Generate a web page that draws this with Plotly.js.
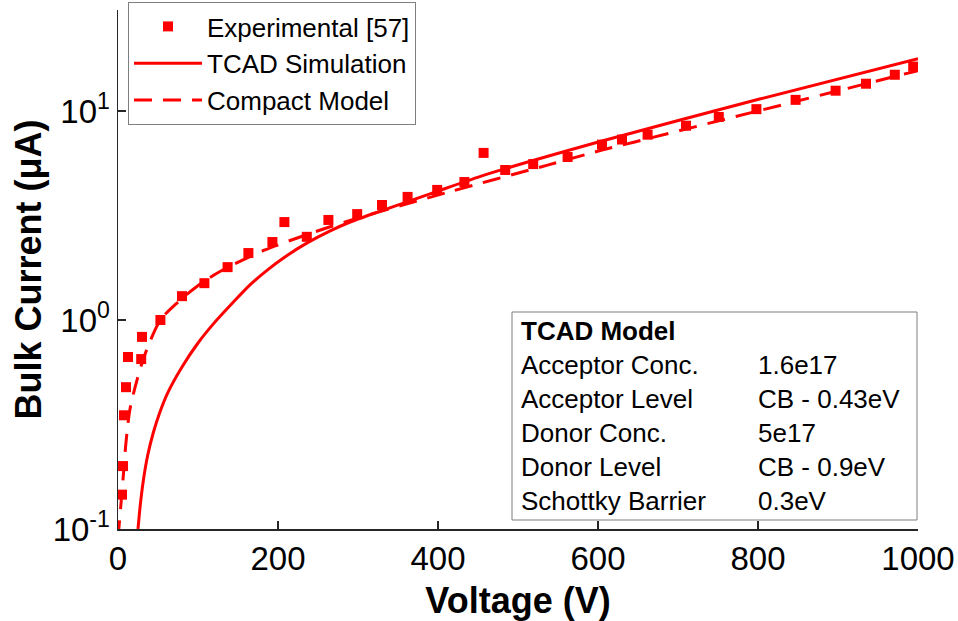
<!DOCTYPE html>
<html>
<head>
<meta charset="utf-8">
<script src="https://cdn.plot.ly/plotly-3.0.1.min.js"></script>
<style>
  html, body { margin: 0; padding: 0; background: #fff; }
  #chart { width: 958px; height: 621px; }
</style>
</head>
<body>
<div id="chart"></div>
<script>
// ---- Data ----
const expVoltage = [5, 6.3, 7.5, 10, 12.5, 29, 30, 53, 80, 108, 137, 163, 193, 208, 236, 263, 299, 330, 362, 399, 433, 457, 484, 519, 562, 605, 630, 662, 710, 751, 798, 847, 897, 935, 971, 994];
const expCurrent = [0.146, 0.2, 0.35, 0.477, 0.665, 0.65, 0.83, 1.0, 1.30, 1.50, 1.79, 2.09, 2.36, 2.94, 2.50, 3.01, 3.21, 3.55, 3.88, 4.19, 4.57, 6.3, 5.22, 5.57, 6.02, 6.9, 7.3, 7.7, 8.5, 9.36, 10.2, 11.3, 12.5, 13.5, 14.9, 16.3];

const tcadVoltage = [25, 28, 32, 37, 44, 52, 62, 80, 100, 120, 144, 165, 187, 210, 237, 264, 291, 329, 390, 454, 605, 802, 1000];
const tcadCurrent = [0.1, 0.132, 0.174, 0.224, 0.288, 0.359, 0.447, 0.596, 0.776, 0.966, 1.216, 1.472, 1.738, 2.018, 2.344, 2.655, 2.951, 3.327, 4.01, 4.88, 7.18, 11.4, 17.8];

const compactVoltage = [0, 6.3, 10, 15, 24, 34, 53, 72, 99, 128, 182, 241, 287, 413, 538, 605, 646, 800, 1000];
const compactCurrent = [0.09, 0.173, 0.26, 0.375, 0.52, 0.69, 1.0, 1.19, 1.45, 1.71, 2.15, 2.6, 2.97, 4.09, 5.52, 6.5, 7.11, 10.0, 15.6];

const seriesNames = ['Experimental [57]', 'TCAD Simulation', 'Compact Model'];

const xTickVals = [0, 200, 400, 600, 800, 1000];
const yTickVals = [0.1, 1, 10];
const yTickText = ['10<sup>-1</sup>', '10<sup>0</sup>', '10<sup>1</sup>'];

const boxTitle = 'TCAD Model';
const paramNames = ['Acceptor Conc.', 'Acceptor Level', 'Donor Conc.', 'Donor Level', 'Schottky Barrier'];
const paramValues = ['1.6e17', 'CB - 0.43eV', '5e17', 'CB - 0.9eV', '0.3eV'];

// ---- Styles ----
const RED = '#ff0000';
const AXIS = '#262626';
const FONT = 'Arial, "Liberation Sans", sans-serif';

const traces = [
  {
    x: expVoltage, y: expCurrent, name: seriesNames[0], type: 'scatter', mode: 'markers',
    marker: { symbol: 'square', size: 10, color: RED },
    legendgroup: 'a'
  },
  {
    x: tcadVoltage, y: tcadCurrent, name: seriesNames[1], type: 'scatter', mode: 'lines',
    line: { color: RED, width: 3, shape: 'spline', smoothing: 0.7 },
    legendgroup: 'b'
  },
  {
    x: compactVoltage, y: compactCurrent, name: seriesNames[2], type: 'scatter', mode: 'lines',
    line: { color: RED, width: 3, dash: '18px,11px', shape: 'spline', smoothing: 0.8 },
    legendgroup: 'c'
  }
];

// plot area: left 118, right 918, top 10, bottom 529
const L = 118, R = 918, T = 10, B = 529;
const px2x = p => (p - L) / (R - L);
const px2y = p => (B - p) / (B - T);

const rowY = [331, 365, 399, 433, 467, 501];
const annotations = [];
annotations.push({
  xref: 'paper', yref: 'paper', x: px2x(519), y: px2y(rowY[0]),
  xanchor: 'left', yanchor: 'middle', showarrow: false,
  text: '<b>' + boxTitle + '</b>', font: { family: FONT, size: 26, color: '#000' }
});
paramNames.forEach((n, i) => {
  annotations.push({
    xref: 'paper', yref: 'paper', x: px2x(519), y: px2y(rowY[i + 1]),
    xanchor: 'left', yanchor: 'middle', showarrow: false,
    text: n, font: { family: FONT, size: 26, color: '#000' }
  });
  annotations.push({
    xref: 'paper', yref: 'paper', x: px2x(756), y: px2y(rowY[i + 1]),
    xanchor: 'left', yanchor: 'middle', showarrow: false,
    text: paramValues[i], font: { family: FONT, size: 26, color: '#000' }
  });
});

const layout = {
  width: 958, height: 621,
  margin: { l: L, r: 958 - R, t: T, b: 621 - B, pad: 0, autoexpand: false },
  paper_bgcolor: '#fff', plot_bgcolor: '#fff',
  font: { family: FONT, color: '#000' },
  showlegend: true,
  legend: {
    x: px2x(128), y: px2y(2), xanchor: 'left', yanchor: 'top',
    bordercolor: '#7f7f7f', borderwidth: 1, bgcolor: '#fff',
    font: { family: FONT, size: 26, color: '#000' },
    itemwidth: 68, tracegroupgap: 0, traceorder: 'grouped'
  },
  xaxis: {
    range: [0, 1000], tickvals: xTickVals, ticks: 'inside', ticklen: 8, tickwidth: 1.2,
    tickcolor: AXIS, showline: true, linecolor: AXIS, linewidth: 1.5,
    showgrid: false, zeroline: false, mirror: false,
    tickfont: { family: FONT, size: 33, color: '#000' },
    title: { text: 'Voltage (V)', font: { family: FONT, size: 36, weight: 'bold', color: '#000' }, standoff: 13 },
    automargin: false
  },
  yaxis: {
    type: 'log', range: [-1, 1.483], tickvals: yTickVals, ticktext: yTickText,
    ticks: 'inside', ticklen: 8, tickwidth: 1.2, tickcolor: AXIS,
    showline: true, linecolor: AXIS, linewidth: 1.5,
    showgrid: false, zeroline: false, mirror: false,
    tickfont: { family: FONT, size: 33, color: '#000' },
    title: { text: 'Bulk Current (μA)', font: { family: FONT, size: 36, weight: 'bold', color: '#000' }, standoff: 0 },
    automargin: false
  },
  shapes: [{
    type: 'rect', xref: 'paper', yref: 'paper',
    x0: px2x(512), x1: px2x(917), y0: px2y(520), y1: px2y(312),
    line: { color: '#7f7f7f', width: 1 }, fillcolor: '#fff', layer: 'below'
  }],
  annotations: annotations
};

Plotly.newPlot('chart', traces, layout, { displayModeBar: false, staticPlot: true });
</script>
</body>
</html>
